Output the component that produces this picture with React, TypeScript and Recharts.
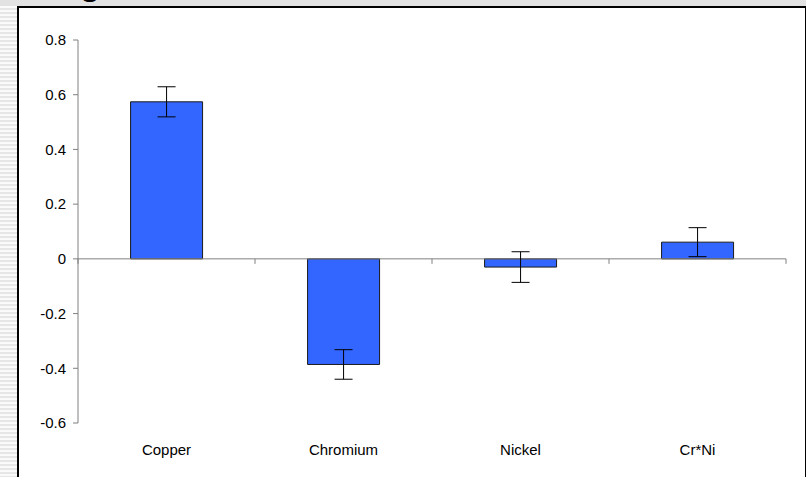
import { BarChart, Bar, XAxis, YAxis, ErrorBar, ReferenceLine } from "recharts";

const categories = ["Copper", "Chromium", "Nickel", "Cr*Ni"];
const effects = [0.574, -0.386, -0.03, 0.061];
const errors = [0.055, 0.054, 0.056, 0.053];
const yTicks = [-0.6, -0.4, -0.2, 0, 0.2, 0.4, 0.6, 0.8];

const data = categories.map((name, i) => ({ name, value: effects[i], err: errors[i] }));

const font = "Arial, 'Liberation Sans', sans-serif";
const axisGray = "#808080";

// zero line with the little category-boundary ticks hanging below it
const ZeroLine = (props: any) => {
  const { x1, y1, x2 } = props;
  const step = (x2 - x1) / categories.length;
  const marks = Array.from({ length: categories.length + 1 }, (_, i) => x1 + i * step);
  return (
    <g>
      <line x1={x1} y1={y1} x2={x2} y2={y1} stroke={axisGray} strokeWidth={1} />
      {marks.map((x, i) => (
        <line key={i} x1={x} y1={y1} x2={x} y2={y1 + 5} stroke={axisGray} strokeWidth={1} />
      ))}
    </g>
  );
};

export default function App() {
  return (
    <div
      style={{
        position: "absolute",
        left: 0,
        top: 0,
        width: 806,
        height: 477,
        overflow: "hidden",
        background: "#fff",
        fontFamily: font,
      }}
    >
      {/* slide background bits */}
      <div
        style={{
          position: "absolute",
          left: 0,
          top: 0,
          width: 17,
          height: 477,
          background: "repeating-linear-gradient(to bottom, #e6e6e6 0px, #e6e6e6 2px, #fafafa 2px, #fafafa 4px)",
        }}
      />
      <div style={{ position: "absolute", left: 0, top: 0, width: 806, height: 6, background: "#e2e2e2" }} />
      <span
        style={{
          position: "absolute",
          left: 79,
          top: -40,
          fontSize: 40,
          lineHeight: "40px",
          color: "#000",
          fontFamily: font,
        }}
      >
        g
      </span>
      <div
        style={{
          position: "absolute",
          left: 17,
          top: 6,
          width: 786,
          height: 480,
          border: "2px solid #000",
          background: "#fff",
        }}
      />
      <div style={{ position: "absolute", left: 0, top: 0 }}>
        <BarChart
          width={806}
          height={477}
          data={data}
          margin={{ top: 40, right: 20, bottom: 0, left: 0 }}
          barCategoryGap="29.7%"
        >
          <XAxis
            dataKey="name"
            axisLine={false}
            tickLine={false}
            tickSize={0}
            tickMargin={21}
            height={54}
            interval={0}
            tick={{ fill: "#000", fontSize: 15, fontFamily: font }}
          />
          <YAxis
            width={78}
            domain={[-0.6, 0.8]}
            ticks={yTicks}
            interval={0}
            allowDataOverflow
            axisLine={{ stroke: axisGray }}
            tickLine={{ stroke: axisGray }}
            tickSize={5}
            tickMargin={7}
            tickFormatter={(v: number) => (v === 0 ? "0" : v.toFixed(1))}
            tick={{ fill: "#000", fontSize: 15, fontFamily: font }}
          />
          <ReferenceLine y={0} shape={ZeroLine} />
          <Bar dataKey="value" fill="#3366FF" stroke="#1a1a1a" strokeWidth={1} isAnimationActive={false}>
            <ErrorBar dataKey="err" width={9} stroke="#000" strokeWidth={1} />
          </Bar>
        </BarChart>
      </div>
    </div>
  );
}
